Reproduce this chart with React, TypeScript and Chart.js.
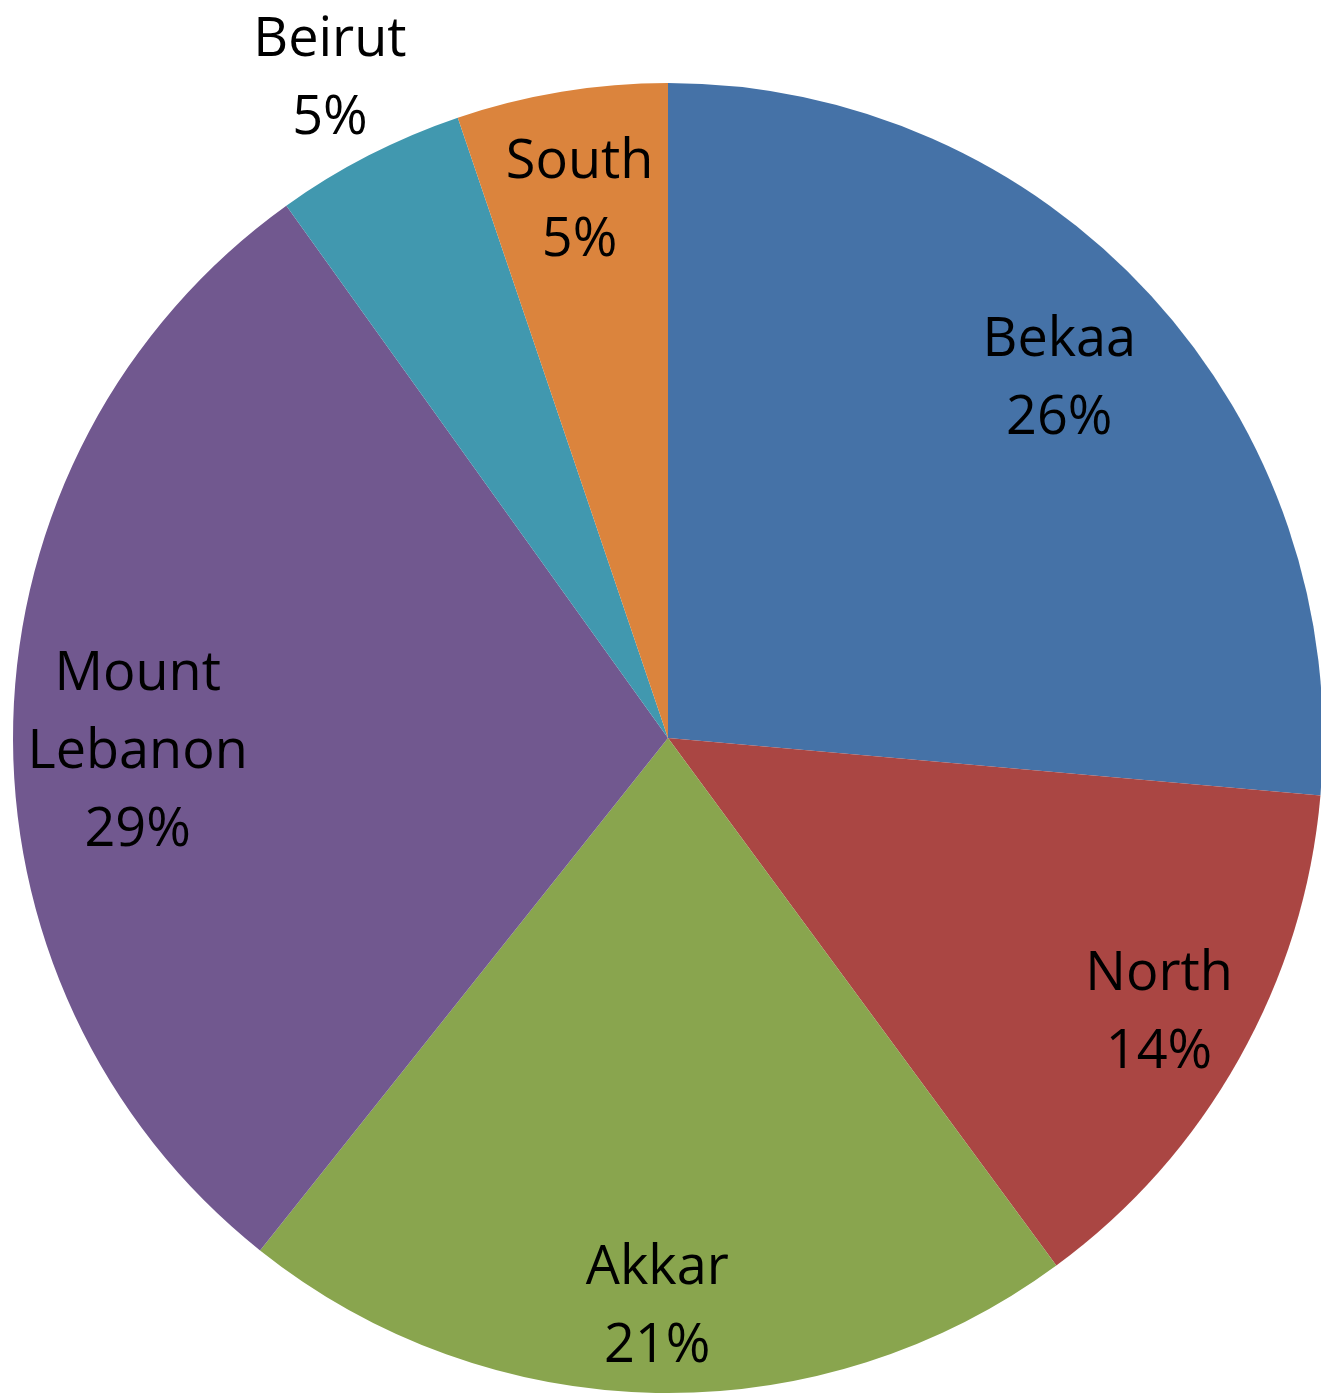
import React, { useEffect, useRef } from "react";
import { Chart, registerables } from "chart.js";

Chart.register(...registerables);

const categories = ["Bekaa", "North", "Akkar", "Mount Lebanon", "Beirut", "South"];
const labelLines = [["Bekaa"], ["North"], ["Akkar"], ["Mount", "Lebanon"], ["Beirut"], ["South"]];
const values = [26.4, 13.5, 20.8, 29.4, 4.7, 5.2];
const colors = ["#4572A7", "#AA4643", "#89A54E", "#71588F", "#4198AF", "#DB843D"];
// label placement (layout only): distance from centre as fraction of radius, and angle nudge in degrees
const labelRadius = [0.81, 0.86, 0.87, 0.81, 1.13, 0.83];
const labelAngleNudge = [0, 0, 0, -3, 0, 0];

const FONT = '54px "Open Sans", "Noto Sans", sans-serif';
const LINE_H = 78;

const labelPlugin = {
  id: "sliceLabels",
  afterDatasetsDraw(chart: any) {
    const ctx = chart.ctx;
    const meta = chart.getDatasetMeta(0);
    const data = chart.data.datasets[0].data as number[];
    const total = data.reduce((a, b) => a + b, 0);
    ctx.save();
    ctx.font = FONT;
    ctx.fillStyle = "#000000";
    ctx.textAlign = "center";
    ctx.textBaseline = "middle";
    meta.data.forEach((arc: any, i: number) => {
      const { x, y, startAngle, endAngle, outerRadius } = arc.getProps(
        ["x", "y", "startAngle", "endAngle", "outerRadius"],
        true
      );
      const mid = (startAngle + endAngle) / 2 + (labelAngleNudge[i] * Math.PI) / 180;
      const r = outerRadius * labelRadius[i];
      const cx = x + Math.cos(mid) * r;
      const cy = y + Math.sin(mid) * r;
      const lines = [...labelLines[i], Math.round((data[i] / total) * 100) + "%"];
      const top = cy - ((lines.length - 1) * LINE_H) / 2;
      lines.forEach((t, k) => ctx.fillText(t, cx, top + k * LINE_H));
    });
    ctx.restore();
  },
};

export default function App() {
  const ref = useRef<HTMLCanvasElement | null>(null);
  useEffect(() => {
    if (!ref.current) return;
    const chart = new Chart(ref.current, {
      type: "pie",
      data: {
        labels: categories,
        datasets: [
          {
            data: values,
            backgroundColor: colors,
            borderWidth: 0,
          },
        ],
      },
      options: {
        animation: false,
        responsive: false,
        maintainAspectRatio: false,
        layout: { padding: { left: 13, top: 83, right: 13, bottom: 2 } },
        plugins: {
          legend: { display: false },
          tooltip: { enabled: false },
        },
      },
      plugins: [labelPlugin],
    });
    return () => chart.destroy();
  }, []);
  return (
    <div
      style={{
        position: "fixed",
        left: 0,
        top: 0,
        width: 1321,
        height: 1395,
        overflow: "hidden",
        background: "#ffffff",
      }}
    >
      <canvas ref={ref} width={1336} height={1395} style={{ width: 1336, height: 1395, display: "block" }} />
    </div>
  );
}
